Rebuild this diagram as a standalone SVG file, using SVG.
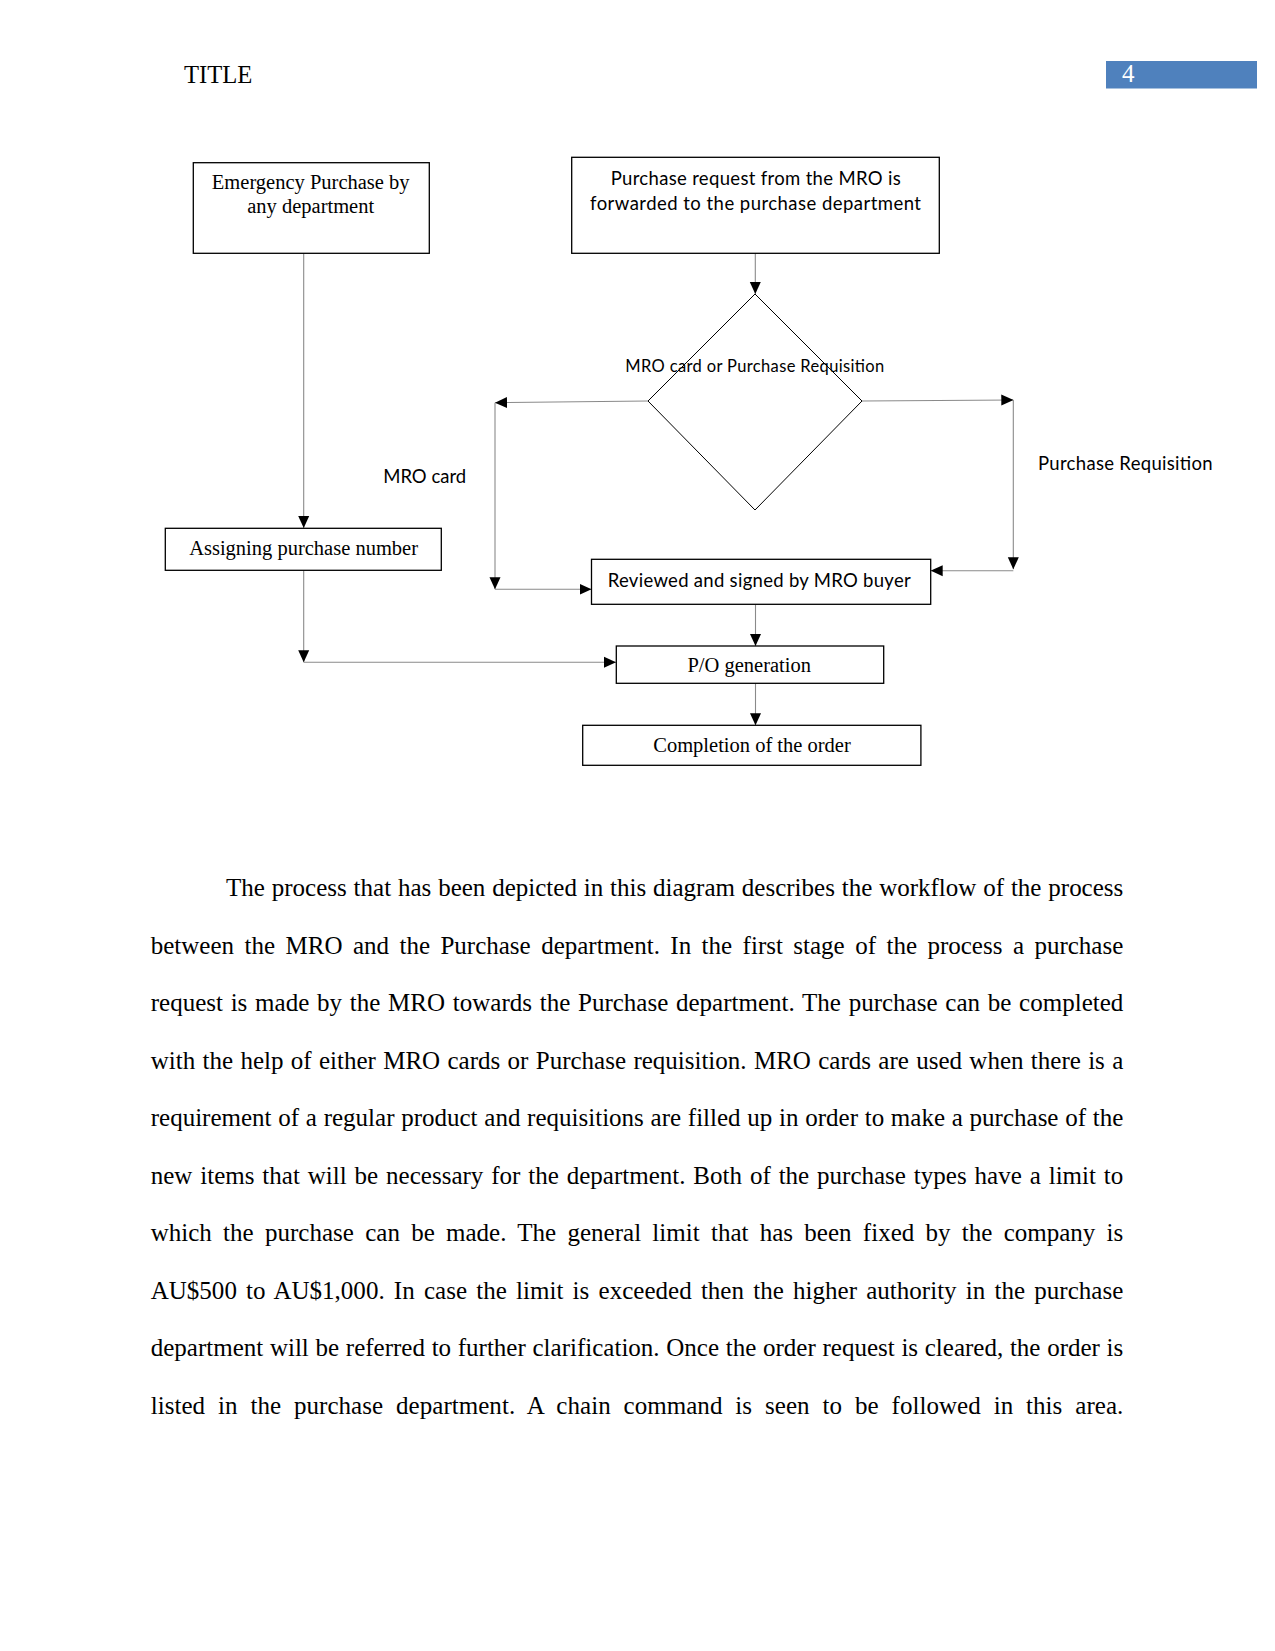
<svg xmlns="http://www.w3.org/2000/svg" width="1275" height="1651" viewBox="0 0 1275 1651">
<style>
.bg{fill:#ffffff}
.box{fill:#ffffff;stroke:#000000;stroke-width:1.3}
.dia{fill:none;stroke:#000000;stroke-width:1}
.conn{fill:none;stroke:#8a8a8a;stroke-width:1.1}
.serif{font-family:"Liberation Serif","Times New Roman",serif;fill:#000000}
.sans{font-family:Lato,"Noto Sans","Liberation Sans",sans-serif;fill:#000000}
.lbl{font-size:20.5px}
.slbl{font-size:18.5px}
.body{font-family:"Liberation Serif","Times New Roman",serif;font-size:25px;fill:#000000}
</style>
<defs>
<marker id="arr" viewBox="0 0 12 12" markerWidth="12" markerHeight="12" refX="12" refY="6" orient="auto" markerUnits="userSpaceOnUse">
<path d="M0,0.5 L12,6 L0,11.5 z" fill="#000000"/>
</marker>
</defs>
<rect class="bg" x="0" y="0" width="1275" height="1651"/>

<g id="header">
<text class="serif" x="184" y="82.7" font-size="25" textLength="68.4" lengthAdjust="spacingAndGlyphs">TITLE</text>
<rect x="1106" y="61" width="151" height="27.5" fill="#4f81bd"/>
<text class="serif" x="1122" y="82" font-size="25" style="fill:#ffffff">4</text>
</g>

<g id="connectors">
<path class="conn" d="M303.7,253.3 V528" marker-end="url(#arr)"/>
<path class="conn" d="M755.3,253.3 V294" marker-end="url(#arr)"/>
<path class="conn" d="M648,401 L495,402.7" marker-end="url(#arr)"/>
<path class="conn" d="M495,402.7 V589.3" marker-end="url(#arr)"/>
<path class="conn" d="M495,589.3 H591.5" marker-end="url(#arr)"/>
<path class="conn" d="M862,401 L1013.3,400" marker-end="url(#arr)"/>
<path class="conn" d="M1013.3,400 V569.3" marker-end="url(#arr)"/>
<path class="conn" d="M1013.3,570.7 H930.7" marker-end="url(#arr)"/>
<path class="conn" d="M303.7,570.3 V662.3" marker-end="url(#arr)"/>
<path class="conn" d="M303.7,662.3 H616" marker-end="url(#arr)"/>
<path class="conn" d="M755.5,604.3 V646" marker-end="url(#arr)"/>
<path class="conn" d="M755.5,683.3 V725.3" marker-end="url(#arr)"/>
</g>

<g id="node-emergency">
<rect class="box" x="193.3" y="162.7" width="236" height="90.6"/>
<text class="serif lbl" x="310.7" y="189.3" text-anchor="middle">Emergency Purchase by</text>
<text class="serif lbl" x="310.7" y="213.3" text-anchor="middle">any department</text>
</g>

<g id="node-request">
<rect class="box" x="571.7" y="157.3" width="367.6" height="96"/>
<text class="sans slbl" x="755.7" y="185" text-anchor="middle" textLength="290" lengthAdjust="spacing">Purchase request from the MRO is</text>
<text class="sans slbl" x="755.5" y="210" text-anchor="middle" textLength="331" lengthAdjust="spacing">forwarded to the purchase department</text>
</g>

<g id="node-decision">
<path class="dia" d="M755,294 L862,401 L755,510 L648,401 Z"/>
<text class="sans" font-size="16.5" x="754.8" y="371.7" text-anchor="middle" textLength="259" lengthAdjust="spacing">MRO card or Purchase Requisition</text>
</g>

<g id="label-mro-card">
<text class="sans slbl" x="383.2" y="483" textLength="83" lengthAdjust="spacing">MRO card</text>
</g>

<g id="label-purchase-requisition">
<text class="sans slbl" x="1038" y="470" textLength="174.7" lengthAdjust="spacing">Purchase Requisition</text>
</g>

<g id="node-assigning">
<rect class="box" x="165.3" y="528.3" width="276" height="42"/>
<text class="serif lbl" x="303.6" y="555" text-anchor="middle">Assigning purchase number</text>
</g>

<g id="node-reviewed">
<rect class="box" x="591.5" y="559.3" width="339.2" height="45"/>
<text class="sans slbl" x="759.2" y="586.7" text-anchor="middle" textLength="303" lengthAdjust="spacing">Reviewed and signed by MRO buyer</text>
</g>

<g id="node-po">
<rect class="box" x="616.3" y="646" width="267.4" height="37.3"/>
<text class="serif lbl" x="749.2" y="672.3" text-anchor="middle">P/O generation</text>
</g>

<g id="node-completion">
<rect class="box" x="582.7" y="725.3" width="338.2" height="40"/>
<text class="serif lbl" x="752" y="751.7" text-anchor="middle">Completion of the order</text>
</g>

<g id="body-text">
<text class="body" x="226" y="896" word-spacing="0.6" textLength="897.3" lengthAdjust="spacing">The process that has been depicted in this diagram describes the workflow of the process</text>
<text class="body" x="150.7" y="953.5" word-spacing="4.2" textLength="972.6" lengthAdjust="spacing">between the MRO and the Purchase department. In the first stage of the process a purchase</text>
<text class="body" x="150.7" y="1011" word-spacing="1.48" textLength="972.6" lengthAdjust="spacing">request is made by the MRO towards the Purchase department. The purchase can be completed</text>
<text class="body" x="150.7" y="1068.5" word-spacing="1.09" textLength="972.6" lengthAdjust="spacing">with the help of either MRO cards or Purchase requisition. MRO cards are used when there is a</text>
<text class="body" x="150.7" y="1126" word-spacing="0.46" textLength="972.6" lengthAdjust="spacing">requirement of a regular product and requisitions are filled up in order to make a purchase of the</text>
<text class="body" x="150.7" y="1183.5" word-spacing="1.66" textLength="972.6" lengthAdjust="spacing">new items that will be necessary for the department. Both of the purchase types have a limit to</text>
<text class="body" x="150.7" y="1241" word-spacing="5.0" textLength="972.6" lengthAdjust="spacing">which the purchase can be made. The general limit that has been fixed by the company is</text>
<text class="body" x="150.7" y="1298.5" word-spacing="2.95" textLength="972.6" lengthAdjust="spacing">AU$500 to AU$1,000. In case the limit is exceeded then the higher authority in the purchase</text>
<text class="body" x="150.7" y="1356" word-spacing="0.45" textLength="972.6" lengthAdjust="spacing">department will be referred to further clarification. Once the order request is cleared, the order is</text>
<text class="body" x="150.7" y="1413.5" word-spacing="6.65" textLength="972.6" lengthAdjust="spacing">listed in the purchase department. A chain command is seen to be followed in this area.</text>
</g>
</svg>
